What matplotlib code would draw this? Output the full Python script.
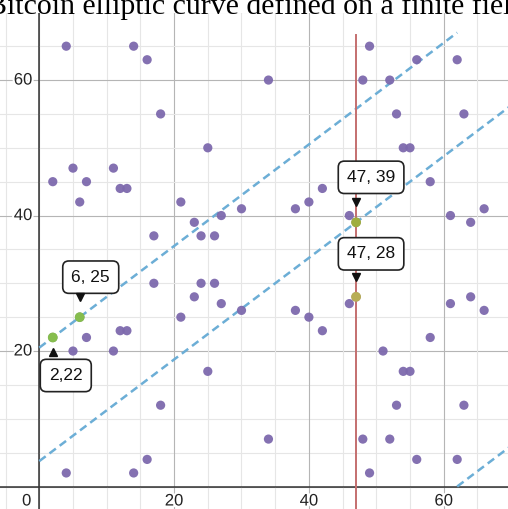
import numpy as np
import matplotlib
matplotlib.use("Agg")
import matplotlib.pyplot as plt
import matplotlib.patheffects as pe
from matplotlib.transforms import offset_copy

# points of y^2 = x^3 + 7 over F_67
px = [2, 2, 4, 4, 5, 5, 6, 6, 7, 7, 11, 11, 12, 12, 13, 13, 14, 14, 16, 16,
      17, 17, 18, 18, 21, 21, 23, 23, 24, 24, 25, 25, 26, 26, 27, 27, 30, 30,
      34, 34, 38, 38, 40, 40, 42, 42, 46, 46, 47, 47, 48, 48, 49, 49, 51, 51,
      52, 52, 53, 53, 54, 54, 55, 55, 56, 56, 58, 58, 61, 61, 62, 62, 63, 63,
      64, 64, 66, 66]
py = [22, 45, 2, 65, 20, 47, 25, 42, 22, 45, 20, 47, 23, 44, 23, 44, 2, 65, 4, 63,
      30, 37, 12, 55, 25, 42, 28, 39, 30, 37, 17, 50, 30, 37, 27, 40, 26, 41,
      7, 60, 26, 41, 25, 42, 23, 44, 27, 40, 28, 39, 7, 60, 2, 65, 20, 47,
      7, 60, 12, 55, 17, 50, 17, 50, 4, 63, 22, 45, 27, 40, 4, 63, 12, 55,
      28, 39, 26, 41]

# highlighted points P, Q, -R, R
hx = [2, 6, 47, 47]
hy = [22, 25, 39, 28]
hcol = ["#86bd4e", "#86bd4e", "#9fae3e", "#b8ad55"]
hlab = ["2,22", "6, 25", "47, 39", "47, 28"]

# dashed lines y = 0.75 x + b, drawn between x0 and x1
slope = 0.75
lines_b = [20.5, 3.75, -46.5]
lines_x = [(0, 62), (0, 70), (62, 70)]

x_ticks = [0, 20, 40, 60]
y_ticks = [20, 40, 60]

fig = plt.figure(figsize=(5.08, 5.09), dpi=100)
ax = fig.add_axes([0, 0, 1, 496 / 509])
ax.set_xlim(-5.83, 69.54)
ax.set_ylim(-3.32, 69.9)
ax.axis("off")

# grid
for v in range(-5, 71, 5):
    major = v % 20 == 0
    c = "#b5b5b5" if major else "#e6e6e6"
    ax.axvline(v, color=c, lw=0.8, zorder=0)
    ax.axhline(v, color=c, lw=0.8, zorder=0)
ax.axvline(0, color="#333333", lw=1.1, zorder=1)
ax.axhline(0, color="#333333", lw=1.1, zorder=1)

halo = [pe.withStroke(linewidth=3, foreground="white")]
for t in x_ticks:
    if t == 0:
        ax.annotate("0", (t, 0), xytext=(-8, -7), textcoords="offset pixels",
                    ha="right", va="top", fontsize=12, color="#222222",
                    family="Liberation Sans", path_effects=halo)
    else:
        ax.annotate(str(t), (t, 0), xytext=(0, -7), textcoords="offset pixels",
                    ha="center", va="top", fontsize=12, color="#222222",
                    family="Liberation Sans", path_effects=halo)
for t in y_ticks:
    ax.annotate(str(t), (0, t), xytext=(-7, 0), textcoords="offset pixels",
                ha="right", va="center", fontsize=12, color="#222222",
                family="Liberation Sans", path_effects=halo)

# lines
for b, (x0, x1) in zip(lines_b, lines_x):
    xx = np.array([x0, x1])
    ax.plot(xx, slope * xx + b, color="#6caed6", lw=1.8, dashes=(3.2, 1.9),
            zorder=2, solid_capstyle="butt")
ax.plot([47, 47], [-5, 66.6], color="#c46f6f", lw=1.4, zorder=2)

ax.scatter(px, py, s=44, color="#7d69ad", edgecolors="none", alpha=0.95, zorder=3)
ax.scatter(hx, hy, s=50, color=hcol, edgecolors="none", zorder=4)

# labels with pointers (offsets in pixels)
offs = [(13, -38), (11, 40), (15, 45), (15, 43)]
for x, y, lab, (dx, dy) in zip(hx, hy, hlab, offs):
    ax.annotate(lab, (x, y), xytext=(dx, dy), textcoords="offset pixels",
                ha="center", va="center", fontsize=12.5, color="#111111",
                family="Liberation Sans", zorder=6,
                bbox=dict(boxstyle="round,pad=0.5,rounding_size=0.35",
                          fc="white", ec="#222222", lw=1.2))
    up = dy > 0
    tip = 20 if up else -15
    tr = offset_copy(ax.transData, fig=fig, x=0, y=tip, units="dots")
    ax.plot([x], [y], marker="v" if up else "^", ms=6, color="#111111",
            transform=tr, zorder=7, clip_on=False)

fig.text(-13 / 508, 1 - 14 / 509, "Bitcoin elliptic curve defined on a finite field",
         family="Liberation Serif", fontsize=21.5, va="baseline", ha="left",
         color="black", zorder=10)

fig.savefig("out.png", dpi=100)
